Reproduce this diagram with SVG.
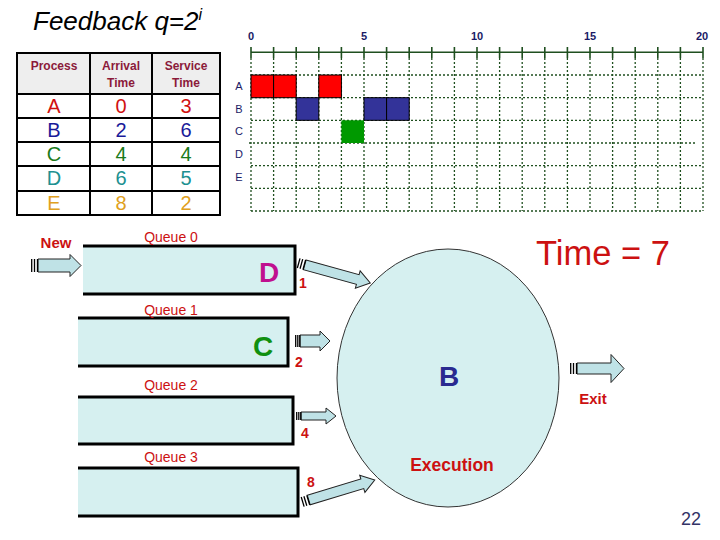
<svg xmlns="http://www.w3.org/2000/svg" width="720" height="540" viewBox="0 0 720 540">
<style>
text{font-family:"Liberation Sans",Arial,sans-serif}
.hd{font-size:12px;font-weight:bold;fill:#8b1a3a;text-anchor:middle}
.cell{font-size:20px;text-anchor:middle}
.tick{font-size:11px;font-weight:bold;fill:#1a1a66;text-anchor:middle}
.rowl{font-size:11px;fill:#1a1a66;text-anchor:middle}
.grid{stroke:#1f4f1f;stroke-width:1.3;stroke-dasharray:2 2;fill:none}
.ql{font-size:14px;fill:#cc1111;text-anchor:middle}
.num{font-size:14px;font-weight:bold;fill:#cc1111;text-anchor:middle}
.qfill{fill:#d6f0f0}
.qborder{fill:none;stroke:#000;stroke-width:3}
.arr{fill:#bfe2e6;stroke:#222;stroke-width:1}
.bar{stroke:#000;stroke-width:1.3}
.blk{stroke:#000;stroke-width:1}
</style>

<text x="33" y="30" font-size="26" font-style="italic" fill="#000">Feedback q=2<tspan dy="-10" font-size="16">i</tspan></text>

<g id="table">
  <rect x="17" y="53" width="203" height="41" fill="#eeeeee"/>
  <rect x="17" y="53" width="203" height="162" fill="none" stroke="#000" stroke-width="2"/>
  <path d="M90,53V215M152,53V215M17,94H220M17,118H220M17,142H220M17,166H220M17,191H220" stroke="#000" stroke-width="2" fill="none"/>
  <text class="hd" x="54" y="70">Process</text>
  <text class="hd" x="121" y="70">Arrival</text>
  <text class="hd" x="121" y="87">Time</text>
  <text class="hd" x="186" y="70">Service</text>
  <text class="hd" x="186" y="87">Time</text>
  <g fill="#d01010"><text class="cell" x="54" y="113">A</text><text class="cell" x="121" y="113">0</text><text class="cell" x="186" y="113">3</text></g>
  <g fill="#1a1a99"><text class="cell" x="54" y="137">B</text><text class="cell" x="121" y="137">2</text><text class="cell" x="186" y="137">6</text></g>
  <g fill="#1a7a1a"><text class="cell" x="54" y="161">C</text><text class="cell" x="121" y="161">4</text><text class="cell" x="186" y="161">4</text></g>
  <g fill="#209090"><text class="cell" x="54" y="185">D</text><text class="cell" x="121" y="185">6</text><text class="cell" x="186" y="185">5</text></g>
  <g fill="#e0a020"><text class="cell" x="54" y="210">E</text><text class="cell" x="121" y="210">8</text><text class="cell" x="186" y="210">2</text></g>
</g>

<g id="chart">
  <text class="tick" x="251" y="40">0</text>
  <text class="tick" x="364" y="40">5</text>
  <text class="tick" x="477" y="40">10</text>
  <text class="tick" x="590" y="40">15</text>
  <text class="tick" x="702" y="40">20</text>
  <path d="M251,52.3H703" stroke="#1f4f1f" stroke-width="1.6"/>
  <path d="M251,47V58M273.6,47V58M296.2,47V58M318.8,47V58M341.4,47V58M364,47V58M386.6,47V58M409.2,47V58M431.8,47V58M454.4,47V58M477,47V58M499.6,47V58M522.2,47V58M544.8,47V58M567.4,47V58M590,47V58M612.6,47V58M635.2,47V58M657.8,47V58M680.4,47V58M703,47V58" stroke="#1f4f1f" stroke-width="1.6"/>
  <path class="grid" d="M251,58V211M273.6,58V211M296.2,58V211M318.8,58V211M341.4,58V211M364,58V211M386.6,58V211M409.2,58V211M431.8,58V211M454.4,58V211M477,58V211M499.6,58V211M522.2,58V211M544.8,58V211M567.4,58V211M590,58V211M612.6,58V211M635.2,58V211M657.8,58V211M680.4,58V211M703,58V211"/>
  <path class="grid" d="M251,75H703M251,97.7H703M251,120.3H703M249,143H697M251,165.7H703M251,188.3H703M251,211H703"/>
  <text class="rowl" x="239" y="90">A</text>
  <text class="rowl" x="239" y="113">B</text>
  <text class="rowl" x="239" y="135">C</text>
  <text class="rowl" x="239" y="158">D</text>
  <text class="rowl" x="239" y="181">E</text>
  <g fill="#ff0000" class="blk">
    <rect x="251" y="75" width="22.6" height="22.7"/>
    <rect x="273.6" y="75" width="22.6" height="22.7"/>
    <rect x="318.8" y="75" width="22.6" height="22.7"/>
  </g>
  <g fill="#333399" class="blk">
    <rect x="296.2" y="97.7" width="22.6" height="22.6"/>
    <rect x="364" y="97.7" width="22.6" height="22.6"/>
    <rect x="386.6" y="97.7" width="22.6" height="22.6"/>
  </g>
  <rect x="341.4" y="120.3" width="22.6" height="22.7" fill="#009900"/>
</g>

<g id="queue0">
  <rect class="qfill" x="83" y="246" width="212" height="48"/>
  <path class="qborder" d="M83,246H295V294H83"/>
  <text class="ql" x="171" y="242">Queue 0</text>
  <text x="269" y="282" font-size="28" font-weight="bold" fill="#c0108f" text-anchor="middle">D</text>
</g>
<g id="queue1">
  <rect class="qfill" x="78" y="318" width="210" height="48"/>
  <path class="qborder" d="M78,318H288V366H78"/>
  <text class="ql" x="171" y="315">Queue 1</text>
  <text x="263" y="356" font-size="28" font-weight="bold" fill="#109010" text-anchor="middle">C</text>
</g>
<g id="queue2">
  <rect class="qfill" x="78" y="397" width="215" height="47"/>
  <path class="qborder" d="M78,397H293V444H78"/>
  <text class="ql" x="171" y="390">Queue 2</text>
</g>
<g id="queue3">
  <rect class="qfill" x="78" y="468" width="220" height="48"/>
  <path class="qborder" d="M78,468H298V516H78"/>
  <text class="ql" x="171" y="462">Queue 3</text>
</g>

<g id="execution">
  <ellipse cx="448" cy="378" rx="111" ry="129" fill="#d6f0f0" stroke="#333" stroke-width="1"/>
  <text x="449" y="386" font-size="28" font-weight="bold" fill="#2a2a90" text-anchor="middle">B</text>
  <text x="452" y="471" font-size="17.5" font-weight="bold" fill="#cc1111" text-anchor="middle">Execution</text>
</g>

<g id="connectors">
  <g transform="translate(31,265.5)">
    <path class="arr" d="M7,-6.5H39V-11L50,0L39,11V6.5H7Z"/>
    <path class="bar" d="M0.7,-6.5V6.5M3.5,-6.5V6.5M6.5,-6.5V6.5"/>
  </g>
  <g transform="translate(298,263) rotate(15.5)">
    <path class="arr" d="M7,-5H62V-9L75,0L62,9V5H7Z"/>
    <path class="bar" d="M0.7,-5V5M3.5,-5V5M6.5,-5V5"/>
  </g>
  <g transform="translate(295,341)">
    <path class="arr" d="M5,-6H25V-10L35,0L25,10V6H5Z"/>
    <path class="bar" d="M0.7,-6V6M2.8,-6V6M4.8,-6V6"/>
  </g>
  <g transform="translate(296,416)">
    <path class="arr" d="M5,-4H30V-8L40,0L30,8V4H5Z"/>
    <path class="bar" d="M0.7,-4V4M2.8,-4V4M4.8,-4V4"/>
  </g>
  <g transform="translate(302,502) rotate(-16.8)">
    <path class="arr" d="M7,-5H63V-9L76,0L63,9V5H7Z"/>
    <path class="bar" d="M0.7,-5V5M3.5,-5V5M6.5,-5V5"/>
  </g>
  <g transform="translate(570,368.5)">
    <path class="arr" d="M7,-5.5H41V-14L54,0L41,14V5.5H7Z"/>
    <path class="bar" d="M0.7,-5.5V5.5M3.5,-5.5V5.5M6.5,-5.5V5.5"/>
  </g>
</g>

<text x="56" y="248" font-size="15" font-weight="bold" fill="#cc1111" text-anchor="middle">New</text>
<text class="num" x="303" y="288">1</text>
<text class="num" x="299" y="367">2</text>
<text class="num" x="305" y="438">4</text>
<text class="num" x="311" y="487">8</text>
<text x="593" y="404" font-size="15" font-weight="bold" fill="#cc1111" text-anchor="middle">Exit</text>
<text x="536" y="265" font-size="34.5" fill="#cc1111">Time = 7</text>
<text x="691" y="525" font-size="18" fill="#333366" text-anchor="middle">22</text>
</svg>
